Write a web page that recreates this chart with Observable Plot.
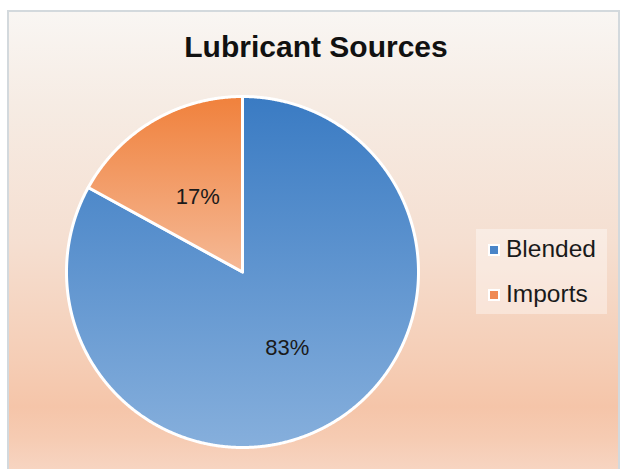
<!DOCTYPE html>
<html><head><meta charset="utf-8">
<script src="https://cdn.jsdelivr.net/npm/d3@7"></script>
<script src="https://cdn.jsdelivr.net/npm/@observablehq/plot@0.6"></script>
<style>
html,body{margin:0;padding:0;background:#fff;}
body{width:626px;height:469px;overflow:hidden;position:relative;font-family:"Liberation Sans",Arial,sans-serif;}
#frame{position:absolute;left:7px;top:10px;width:613px;height:470px;border:2px solid #d3d9dd;box-sizing:border-box;
  background:linear-gradient(to bottom,#f9f6f3 0px,#f6ece4 90px,#f5dfd1 230px,#f5cdb5 350px,#f5c5a9 395px,#f6cbb2 425px,#f7d5c2 459px);}
#title{position:absolute;left:116px;width:400px;top:32px;line-height:30px;text-align:center;font-weight:bold;font-size:30px;color:#111;white-space:nowrap;}
#chart{position:absolute;left:0;top:0;}
#legend{position:absolute;left:476px;top:229px;width:131px;height:85px;background:rgba(255,255,255,0.38);}
.item{position:absolute;left:0;width:131px;height:25px;font-size:24.5px;line-height:24.5px;color:#1a1a1a;white-space:nowrap;}
.item .sw{position:absolute;left:12px;top:7px;width:8px;height:8px;border:2px solid #fff;}
.item .lb{position:absolute;left:30px;top:0;}
</style>
</head><body>
<div id="frame"></div>
<div id="chart"></div>
<div id="title"></div>
<div id="legend"></div>
<script>
// data
const categories = ["Blended", "Imports"];
const values = [83, 17];
const labels = ["83%", "17%"];
const chartTitle = "Lubricant Sources";

// styles
const gradStops = {
  Blended: ["#3a7bc3", "#86afdc"],
  Imports: ["#f0813c", "#f5b996"]
};
const swatch = {Blended: "#4a85c8", Imports: "#ef8a55"};

const rows = categories.map((c, i) => ({name: c, value: values[i], label: labels[i]}));
const arcs = d3.pie().sort(null).value(d => d.value)(rows);

const pts = [];
for (const a of arcs) {
  pts.push({name: a.data.name, x: 0, y: 0});
  const n = Math.ceil((a.endAngle - a.startAngle) / 0.005);
  for (let k = 0; k <= n; k++) {
    const t = a.startAngle + (a.endAngle - a.startAngle) * k / n;
    pts.push({name: a.data.name, x: Math.sin(t), y: Math.cos(t)});
  }
}
const mid = a => (a.startAngle + a.endAngle) / 2;

const plot = Plot.plot({
  width: 626, height: 469, margin: 0,
  x: {domain: [-1, 1], range: [66, 418], axis: null},
  y: {domain: [-1, 1], range: [447, 96], axis: null},
  style: {background: "transparent", overflow: "visible"},
  marks: [
    ...categories.map(c => Plot.line(pts.filter(p => p.name === c), {
      x: "x", y: "y", fill: `url(#grad-${c})`, stroke: "white", strokeWidth: 3,
      strokeLinejoin: "round", curve: "linear-closed"
    })),
    Plot.text(arcs, {
      x: a => 0.5 * Math.sin(mid(a)), y: a => 0.5 * Math.cos(mid(a)),
      text: a => a.data.label, fontSize: 22, fill: "#1a1a1a",
      fontFamily: "Liberation Sans, Arial, sans-serif"
    })
  ]
});
plot.style.background = "transparent";
const defs = d3.select(plot).insert("defs", ":first-child");
for (const c of categories) {
  const g = defs.append("linearGradient").attr("id", `grad-${c}`)
    .attr("x1", 0).attr("y1", 0).attr("x2", 0).attr("y2", 1);
  g.append("stop").attr("offset", "0%").attr("stop-color", gradStops[c][0]);
  g.append("stop").attr("offset", "100%").attr("stop-color", gradStops[c][1]);
}
document.getElementById("chart").appendChild(plot);
document.getElementById("title").textContent = chartTitle;

const legend = document.getElementById("legend");
const tops = [7.6, 52.6];
categories.forEach((c, i) => {
  const it = document.createElement("div");
  it.className = "item";
  it.style.top = tops[i] + "px";
  const sw = document.createElement("div");
  sw.className = "sw"; sw.style.background = swatch[c];
  const lb = document.createElement("div");
  lb.className = "lb"; lb.textContent = c;
  it.appendChild(sw); it.appendChild(lb);
  legend.appendChild(it);
});
</script>
</body></html>
